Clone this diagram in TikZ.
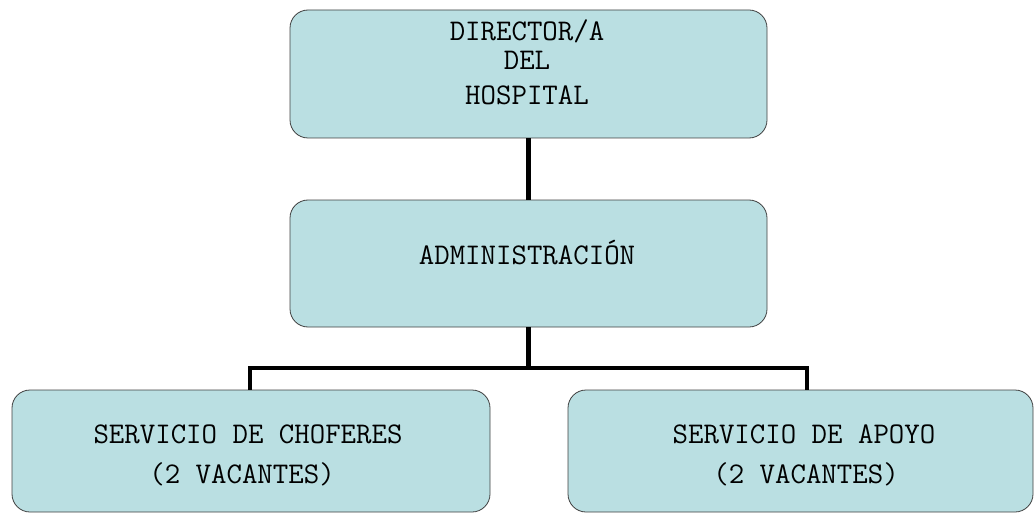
\documentclass[tikz,border=0pt]{standalone}
\usepackage{fontspec}
\begin{document}
\begin{tikzpicture}[x=1pt,y=-1pt,
  orgbox/.style={draw=black!75,line width=0.8pt,fill={rgb,255:red,186;green,223;blue,226},rounded corners=18pt,minimum width=#1,inner sep=0pt},
  lbl/.style={font=\ttfamily\fontsize{30}{32}\selectfont,inner sep=0pt,anchor=base},
  conn/.style={line width=4.5pt,black}]
\useasboundingbox (0,0) rectangle (1035,513);
\node[orgbox=477pt,minimum height=128pt] (dir) at (528.5,74) {};
\node[orgbox=477pt,minimum height=127pt] (adm) at (528.5,263.5) {};
\node[orgbox=478pt,minimum height=122pt] (cho) at (251,451) {};
\node[orgbox=465pt,minimum height=122pt] (apo) at (800.5,451) {};
\coordinate (h) at (0,368);
\coordinate (j) at (adm.south |- h);
\coordinate (lb) at (250,390);
\coordinate (rb) at (807,390);
\draw[conn] (dir.south) -- (adm.north);
\draw[conn] (adm.south) -- (j);
\draw[conn] (j) -| (lb);
\draw[conn] (j) -| (rb);
\node[lbl] (t1) at (527,41) {DIRECTOR/A};
\node[lbl] (t2) at (527,69.5) {DEL};
\node[lbl] (t3) at (527,105) {HOSPITAL};
\node[lbl] (t4) at (527,264) {ADMINISTRACIÓN};
\node[lbl] (t5) at (248,443) {SERVICIO DE CHOFERES};
\node[lbl] (t6) at (242,483) {(2 VACANTES)};
\node[lbl] (t7) at (804,443) {SERVICIO DE APOYO};
\node[lbl] (t8) at (806,483) {(2 VACANTES)};
\end{tikzpicture}
\end{document}
